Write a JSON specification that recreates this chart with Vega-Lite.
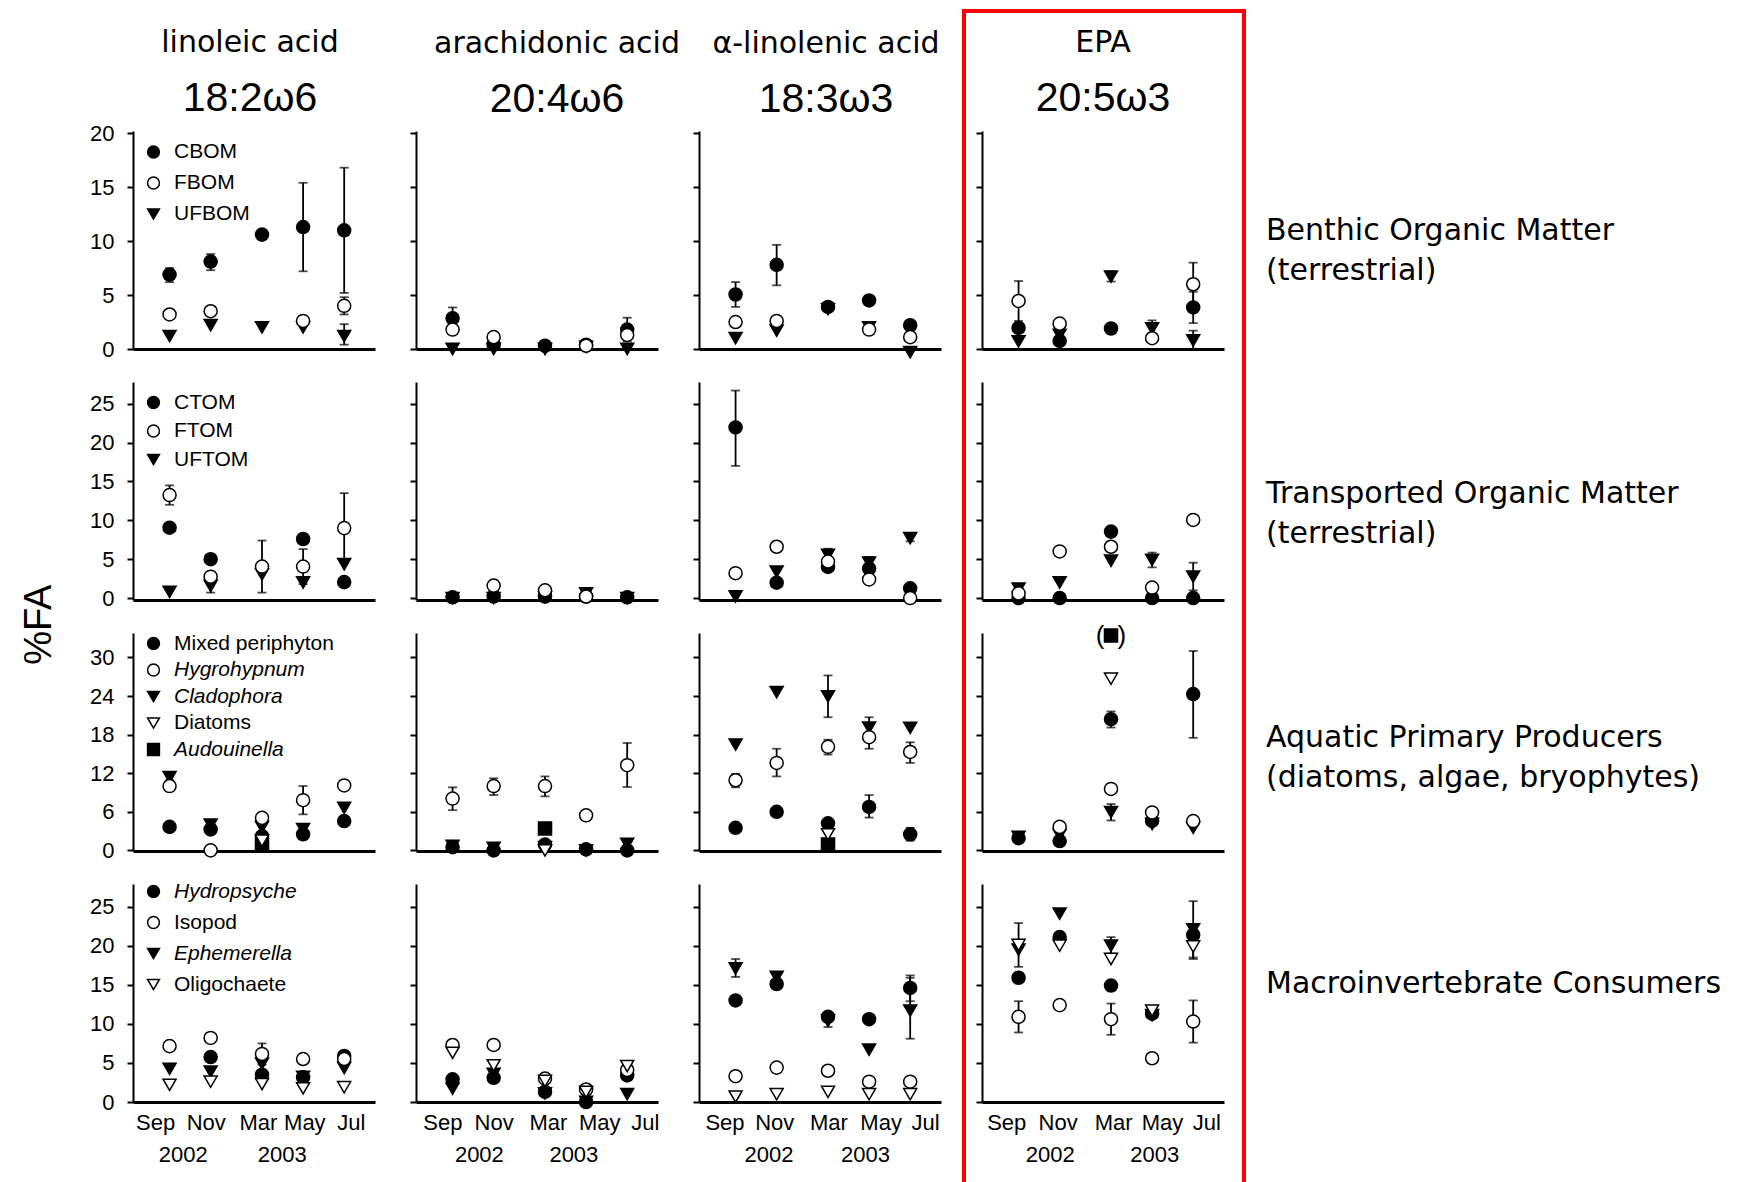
{
  "$schema": "https://vega.github.io/schema/vega-lite/v6.json",
  "background": "white",
  "padding": {"left": 20, "top": 8, "right": 5, "bottom": 0},
  "autosize": {"type": "pad"},
  "title": {"text": "%FA", "orient": "left", "anchor": "middle", "font": "Liberation Sans", "fontSize": 38, "fontWeight": "normal", "offset": 31, "dx": -26},
  "columns": 5,
  "spacing": {"row": 33, "column": 41},
  "bounds": "flush",
  "resolve": {"scale": {"shape": "independent", "fill": "independent", "stroke": "independent"}},
  "datasets": {
    "fa": [
      {"g":"BOM","f":"LA","s":"CBOM","t":0,"v":6.9,"lo":6.2,"hi":7.5},
      {"g":"BOM","f":"LA","s":"CBOM","t":1,"v":8.1,"lo":7.3,"hi":8.8},
      {"g":"BOM","f":"LA","s":"CBOM","t":2.25,"v":10.6},
      {"g":"BOM","f":"LA","s":"CBOM","t":3.25,"v":11.3,"lo":7.2,"hi":15.4},
      {"g":"BOM","f":"LA","s":"CBOM","t":4.25,"v":11.0,"lo":5.2,"hi":16.8},
      {"g":"BOM","f":"LA","s":"UFBOM","t":0,"v":1.2},
      {"g":"BOM","f":"LA","s":"UFBOM","t":1,"v":2.2},
      {"g":"BOM","f":"LA","s":"UFBOM","t":2.25,"v":2.0},
      {"g":"BOM","f":"LA","s":"UFBOM","t":3.25,"v":2.0},
      {"g":"BOM","f":"LA","s":"UFBOM","t":4.25,"v":1.2,"lo":0.4,"hi":2.3},
      {"g":"BOM","f":"LA","s":"FBOM","t":0,"v":3.2},
      {"g":"BOM","f":"LA","s":"FBOM","t":1,"v":3.5,"lo":3.1,"hi":3.9},
      {"g":"BOM","f":"LA","s":"FBOM","t":3.25,"v":2.6},
      {"g":"BOM","f":"LA","s":"FBOM","t":4.25,"v":4.0,"lo":3.2,"hi":4.8},

      {"g":"BOM","f":"ARA","s":"CBOM","t":0,"v":2.85,"lo":1.85,"hi":3.85},
      {"g":"BOM","f":"ARA","s":"CBOM","t":1,"v":0.4},
      {"g":"BOM","f":"ARA","s":"CBOM","t":2.25,"v":0.3},
      {"g":"BOM","f":"ARA","s":"CBOM","t":3.25,"v":0.4},
      {"g":"BOM","f":"ARA","s":"CBOM","t":4.25,"v":1.8,"lo":0.7,"hi":2.9},
      {"g":"BOM","f":"ARA","s":"UFBOM","t":0,"v":0},
      {"g":"BOM","f":"ARA","s":"UFBOM","t":1,"v":0},
      {"g":"BOM","f":"ARA","s":"UFBOM","t":2.25,"v":0},
      {"g":"BOM","f":"ARA","s":"UFBOM","t":3.25,"v":0.2},
      {"g":"BOM","f":"ARA","s":"UFBOM","t":4.25,"v":0},
      {"g":"BOM","f":"ARA","s":"FBOM","t":0,"v":1.8},
      {"g":"BOM","f":"ARA","s":"FBOM","t":1,"v":1.1},
      {"g":"BOM","f":"ARA","s":"FBOM","t":3.25,"v":0.3},
      {"g":"BOM","f":"ARA","s":"FBOM","t":4.25,"v":1.3},

      {"g":"BOM","f":"ALA","s":"CBOM","t":0,"v":5.05,"lo":3.9,"hi":6.2},
      {"g":"BOM","f":"ALA","s":"CBOM","t":1,"v":7.8,"lo":5.9,"hi":9.65},
      {"g":"BOM","f":"ALA","s":"CBOM","t":2.25,"v":3.9},
      {"g":"BOM","f":"ALA","s":"CBOM","t":3.25,"v":4.5},
      {"g":"BOM","f":"ALA","s":"CBOM","t":4.25,"v":2.2},
      {"g":"BOM","f":"ALA","s":"UFBOM","t":0,"v":1.0},
      {"g":"BOM","f":"ALA","s":"UFBOM","t":1,"v":1.7},
      {"g":"BOM","f":"ALA","s":"UFBOM","t":2.25,"v":3.7},
      {"g":"BOM","f":"ALA","s":"UFBOM","t":3.25,"v":2.0},
      {"g":"BOM","f":"ALA","s":"UFBOM","t":4.25,"v":-0.3},
      {"g":"BOM","f":"ALA","s":"FBOM","t":0,"v":2.5},
      {"g":"BOM","f":"ALA","s":"FBOM","t":1,"v":2.6},
      {"g":"BOM","f":"ALA","s":"FBOM","t":3.25,"v":1.8},
      {"g":"BOM","f":"ALA","s":"FBOM","t":4.25,"v":1.1},

      {"g":"BOM","f":"EPA","s":"CBOM","t":0,"v":1.95},
      {"g":"BOM","f":"EPA","s":"CBOM","t":1,"v":0.75},
      {"g":"BOM","f":"EPA","s":"CBOM","t":2.25,"v":1.9},
      {"g":"BOM","f":"EPA","s":"CBOM","t":4.25,"v":3.85,"lo":2.4,"hi":5.3},
      {"g":"BOM","f":"EPA","s":"UFBOM","t":0,"v":0.7},
      {"g":"BOM","f":"EPA","s":"UFBOM","t":1,"v":1.3},
      {"g":"BOM","f":"EPA","s":"UFBOM","t":2.25,"v":6.7,"lo":6.25,"hi":7.2},
      {"g":"BOM","f":"EPA","s":"UFBOM","t":3.25,"v":1.9,"lo":1.15,"hi":2.65},
      {"g":"BOM","f":"EPA","s":"UFBOM","t":4.25,"v":0.8,"lo":0,"hi":1.7},
      {"g":"BOM","f":"EPA","s":"FBOM","t":0,"v":4.45,"lo":2.6,"hi":6.3},
      {"g":"BOM","f":"EPA","s":"FBOM","t":1,"v":2.35},
      {"g":"BOM","f":"EPA","s":"FBOM","t":3.25,"v":1.0},
      {"g":"BOM","f":"EPA","s":"FBOM","t":4.25,"v":6.0,"lo":4.0,"hi":8.0},

      {"g":"TOM","f":"LA","s":"CTOM","t":0,"v":9.05},
      {"g":"TOM","f":"LA","s":"CTOM","t":1,"v":5.0},
      {"g":"TOM","f":"LA","s":"CTOM","t":3.25,"v":7.6},
      {"g":"TOM","f":"LA","s":"CTOM","t":4.25,"v":2.05},
      {"g":"TOM","f":"LA","s":"UFTOM","t":0,"v":0.8},
      {"g":"TOM","f":"LA","s":"UFTOM","t":1,"v":1.55,"lo":0.7,"hi":2.4},
      {"g":"TOM","f":"LA","s":"UFTOM","t":2.25,"v":3.05},
      {"g":"TOM","f":"LA","s":"UFTOM","t":3.25,"v":2.0},
      {"g":"TOM","f":"LA","s":"UFTOM","t":4.25,"v":4.35},
      {"g":"TOM","f":"LA","s":"FTOM","t":0,"v":13.25,"lo":12.0,"hi":14.5},
      {"g":"TOM","f":"LA","s":"FTOM","t":1,"v":2.75},
      {"g":"TOM","f":"LA","s":"FTOM","t":2.25,"v":4.05,"lo":0.7,"hi":7.4},
      {"g":"TOM","f":"LA","s":"FTOM","t":3.25,"v":4.05,"lo":1.8,"hi":6.3},
      {"g":"TOM","f":"LA","s":"FTOM","t":4.25,"v":9.0,"lo":4.5,"hi":13.5},

      {"g":"TOM","f":"ARA","s":"CTOM","t":0,"v":0.1},
      {"g":"TOM","f":"ARA","s":"CTOM","t":1,"v":0.2},
      {"g":"TOM","f":"ARA","s":"CTOM","t":2.25,"v":0.2},
      {"g":"TOM","f":"ARA","s":"CTOM","t":3.25,"v":0.2},
      {"g":"TOM","f":"ARA","s":"CTOM","t":4.25,"v":0.1},
      {"g":"TOM","f":"ARA","s":"UFTOM","t":0,"v":0},
      {"g":"TOM","f":"ARA","s":"UFTOM","t":1,"v":0},
      {"g":"TOM","f":"ARA","s":"UFTOM","t":2.25,"v":0.1},
      {"g":"TOM","f":"ARA","s":"UFTOM","t":3.25,"v":0.6},
      {"g":"TOM","f":"ARA","s":"UFTOM","t":4.25,"v":0},
      {"g":"TOM","f":"ARA","s":"FTOM","t":1,"v":1.6},
      {"g":"TOM","f":"ARA","s":"FTOM","t":2.25,"v":1.0},
      {"g":"TOM","f":"ARA","s":"FTOM","t":3.25,"v":0.2},

      {"g":"TOM","f":"ALA","s":"CTOM","t":0,"v":21.95,"lo":17.0,"hi":26.7},
      {"g":"TOM","f":"ALA","s":"CTOM","t":1,"v":1.98},
      {"g":"TOM","f":"ALA","s":"CTOM","t":2.25,"v":4.0},
      {"g":"TOM","f":"ALA","s":"CTOM","t":3.25,"v":3.8},
      {"g":"TOM","f":"ALA","s":"CTOM","t":4.25,"v":1.25},
      {"g":"TOM","f":"ALA","s":"UFTOM","t":0,"v":0.2},
      {"g":"TOM","f":"ALA","s":"UFTOM","t":1,"v":3.4},
      {"g":"TOM","f":"ALA","s":"UFTOM","t":2.25,"v":5.55,"lo":4.75,"hi":6.35},
      {"g":"TOM","f":"ALA","s":"UFTOM","t":3.25,"v":4.55,"lo":3.8,"hi":5.3},
      {"g":"TOM","f":"ALA","s":"UFTOM","t":4.25,"v":7.7,"lo":7.3,"hi":8.1},
      {"g":"TOM","f":"ALA","s":"FTOM","t":0,"v":3.2},
      {"g":"TOM","f":"ALA","s":"FTOM","t":1,"v":6.6},
      {"g":"TOM","f":"ALA","s":"FTOM","t":2.25,"v":4.7},
      {"g":"TOM","f":"ALA","s":"FTOM","t":3.25,"v":2.4},
      {"g":"TOM","f":"ALA","s":"FTOM","t":4.25,"v":0},

      {"g":"TOM","f":"EPA","s":"CTOM","t":0,"v":0},
      {"g":"TOM","f":"EPA","s":"CTOM","t":1,"v":0},
      {"g":"TOM","f":"EPA","s":"CTOM","t":2.25,"v":8.55},
      {"g":"TOM","f":"EPA","s":"CTOM","t":3.25,"v":0},
      {"g":"TOM","f":"EPA","s":"CTOM","t":4.25,"v":0},
      {"g":"TOM","f":"EPA","s":"UFTOM","t":0,"v":1.2,"lo":0.6,"hi":1.8},
      {"g":"TOM","f":"EPA","s":"UFTOM","t":1,"v":2.0},
      {"g":"TOM","f":"EPA","s":"UFTOM","t":2.25,"v":4.8},
      {"g":"TOM","f":"EPA","s":"UFTOM","t":3.25,"v":4.9,"lo":3.95,"hi":5.85},
      {"g":"TOM","f":"EPA","s":"UFTOM","t":4.25,"v":2.75,"lo":1.0,"hi":4.55},
      {"g":"TOM","f":"EPA","s":"FTOM","t":0,"v":0.6},
      {"g":"TOM","f":"EPA","s":"FTOM","t":1,"v":6.0},
      {"g":"TOM","f":"EPA","s":"FTOM","t":2.25,"v":6.6},
      {"g":"TOM","f":"EPA","s":"FTOM","t":3.25,"v":1.35},
      {"g":"TOM","f":"EPA","s":"FTOM","t":4.25,"v":10.05},

      {"g":"APP","f":"LA","s":"Mixed periphyton","t":0,"v":3.65},
      {"g":"APP","f":"LA","s":"Mixed periphyton","t":1,"v":3.25},
      {"g":"APP","f":"LA","s":"Mixed periphyton","t":2.25,"v":2.2},
      {"g":"APP","f":"LA","s":"Mixed periphyton","t":3.25,"v":2.5},
      {"g":"APP","f":"LA","s":"Mixed periphyton","t":4.25,"v":4.55},
      {"g":"APP","f":"LA","s":"Cladophora","t":0,"v":11.4,"lo":10.9,"hi":11.9},
      {"g":"APP","f":"LA","s":"Cladophora","t":1,"v":4.0},
      {"g":"APP","f":"LA","s":"Cladophora","t":2.25,"v":3.6},
      {"g":"APP","f":"LA","s":"Cladophora","t":3.25,"v":3.3},
      {"g":"APP","f":"LA","s":"Cladophora","t":4.25,"v":6.6},
      {"g":"APP","f":"LA","s":"Audouinella","t":2.25,"v":0.8},
      {"g":"APP","f":"LA","s":"Hygrohypnum","t":0,"v":10.0,"lo":9.3,"hi":10.7},
      {"g":"APP","f":"LA","s":"Hygrohypnum","t":1,"v":0},
      {"g":"APP","f":"LA","s":"Hygrohypnum","t":2.25,"v":5.05},
      {"g":"APP","f":"LA","s":"Hygrohypnum","t":3.25,"v":7.8,"lo":5.6,"hi":10.0},
      {"g":"APP","f":"LA","s":"Hygrohypnum","t":4.25,"v":10.1},
      {"g":"APP","f":"LA","s":"Diatoms","t":2.25,"v":1.5},

      {"g":"APP","f":"ARA","s":"Mixed periphyton","t":0,"v":0.5},
      {"g":"APP","f":"ARA","s":"Mixed periphyton","t":1,"v":0},
      {"g":"APP","f":"ARA","s":"Mixed periphyton","t":2.25,"v":0.9},
      {"g":"APP","f":"ARA","s":"Mixed periphyton","t":3.25,"v":0.15},
      {"g":"APP","f":"ARA","s":"Mixed periphyton","t":4.25,"v":0},
      {"g":"APP","f":"ARA","s":"Cladophora","t":0,"v":0.7},
      {"g":"APP","f":"ARA","s":"Cladophora","t":1,"v":0.4},
      {"g":"APP","f":"ARA","s":"Cladophora","t":2.25,"v":0.5},
      {"g":"APP","f":"ARA","s":"Cladophora","t":3.25,"v":0},
      {"g":"APP","f":"ARA","s":"Cladophora","t":4.25,"v":1.0},
      {"g":"APP","f":"ARA","s":"Audouinella","t":2.25,"v":3.4},
      {"g":"APP","f":"ARA","s":"Hygrohypnum","t":0,"v":8.05,"lo":6.25,"hi":9.8},
      {"g":"APP","f":"ARA","s":"Hygrohypnum","t":1,"v":10.0,"lo":8.6,"hi":11.2},
      {"g":"APP","f":"ARA","s":"Hygrohypnum","t":2.25,"v":10.0,"lo":8.4,"hi":11.5},
      {"g":"APP","f":"ARA","s":"Hygrohypnum","t":3.25,"v":5.45},
      {"g":"APP","f":"ARA","s":"Hygrohypnum","t":4.25,"v":13.25,"lo":9.85,"hi":16.7},
      {"g":"APP","f":"ARA","s":"Diatoms","t":2.25,"v":0},

      {"g":"APP","f":"ALA","s":"Mixed periphyton","t":0,"v":3.5},
      {"g":"APP","f":"ALA","s":"Mixed periphyton","t":1,"v":6.0},
      {"g":"APP","f":"ALA","s":"Mixed periphyton","t":2.25,"v":4.2},
      {"g":"APP","f":"ALA","s":"Mixed periphyton","t":3.25,"v":6.75,"lo":5.1,"hi":8.6},
      {"g":"APP","f":"ALA","s":"Mixed periphyton","t":4.25,"v":2.5,"lo":1.5,"hi":3.5},
      {"g":"APP","f":"ALA","s":"Cladophora","t":0,"v":16.45},
      {"g":"APP","f":"ALA","s":"Cladophora","t":1,"v":24.6},
      {"g":"APP","f":"ALA","s":"Cladophora","t":2.25,"v":23.95,"lo":20.7,"hi":27.2},
      {"g":"APP","f":"ALA","s":"Cladophora","t":3.25,"v":19.1,"lo":17.5,"hi":20.7},
      {"g":"APP","f":"ALA","s":"Cladophora","t":4.25,"v":19.05},
      {"g":"APP","f":"ALA","s":"Audouinella","t":2.25,"v":0.9},
      {"g":"APP","f":"ALA","s":"Hygrohypnum","t":0,"v":10.9,"lo":9.8,"hi":11.9},
      {"g":"APP","f":"ALA","s":"Hygrohypnum","t":1,"v":13.6,"lo":11.5,"hi":15.8},
      {"g":"APP","f":"ALA","s":"Hygrohypnum","t":2.25,"v":16.1,"lo":14.9,"hi":17.2},
      {"g":"APP","f":"ALA","s":"Hygrohypnum","t":3.25,"v":17.6,"lo":15.8,"hi":18.2},
      {"g":"APP","f":"ALA","s":"Hygrohypnum","t":4.25,"v":15.3,"lo":13.6,"hi":16.8},
      {"g":"APP","f":"ALA","s":"Diatoms","t":2.25,"v":2.5},

      {"g":"APP","f":"EPA","s":"Mixed periphyton","t":0,"v":1.9},
      {"g":"APP","f":"EPA","s":"Mixed periphyton","t":1,"v":1.45},
      {"g":"APP","f":"EPA","s":"Mixed periphyton","t":2.25,"v":20.4,"lo":19.1,"hi":21.6},
      {"g":"APP","f":"EPA","s":"Mixed periphyton","t":3.25,"v":4.6},
      {"g":"APP","f":"EPA","s":"Mixed periphyton","t":4.25,"v":24.3,"lo":17.5,"hi":31.0},
      {"g":"APP","f":"EPA","s":"Cladophora","t":0,"v":2.1},
      {"g":"APP","f":"EPA","s":"Cladophora","t":1,"v":2.4},
      {"g":"APP","f":"EPA","s":"Cladophora","t":2.25,"v":5.95,"lo":4.65,"hi":7.2},
      {"g":"APP","f":"EPA","s":"Cladophora","t":3.25,"v":4.1},
      {"g":"APP","f":"EPA","s":"Cladophora","t":4.25,"v":3.5},
      {"g":"APP","f":"EPA","s":"Audouinella","t":2.25,"v":33.4},
      {"g":"APP","f":"EPA","s":"Hygrohypnum","t":1,"v":3.65},
      {"g":"APP","f":"EPA","s":"Hygrohypnum","t":2.25,"v":9.55},
      {"g":"APP","f":"EPA","s":"Hygrohypnum","t":3.25,"v":5.9},
      {"g":"APP","f":"EPA","s":"Hygrohypnum","t":4.25,"v":4.55},
      {"g":"APP","f":"EPA","s":"Diatoms","t":2.25,"v":26.7},

      {"g":"MIC","f":"LA","s":"Hydropsyche","t":1,"v":5.75},
      {"g":"MIC","f":"LA","s":"Hydropsyche","t":2.25,"v":3.5},
      {"g":"MIC","f":"LA","s":"Hydropsyche","t":3.25,"v":3.15},
      {"g":"MIC","f":"LA","s":"Hydropsyche","t":4.25,"v":5.9,"lo":5.5,"hi":6.3},
      {"g":"MIC","f":"LA","s":"Ephemerella","t":0,"v":4.25},
      {"g":"MIC","f":"LA","s":"Ephemerella","t":1,"v":3.9},
      {"g":"MIC","f":"LA","s":"Ephemerella","t":2.25,"v":4.9},
      {"g":"MIC","f":"LA","s":"Ephemerella","t":3.25,"v":3.2},
      {"g":"MIC","f":"LA","s":"Ephemerella","t":4.25,"v":4.35},
      {"g":"MIC","f":"LA","s":"Isopod","t":0,"v":7.15},
      {"g":"MIC","f":"LA","s":"Isopod","t":1,"v":8.2},
      {"g":"MIC","f":"LA","s":"Isopod","t":2.25,"v":6.15,"lo":4.8,"hi":7.5},
      {"g":"MIC","f":"LA","s":"Isopod","t":3.25,"v":5.5},
      {"g":"MIC","f":"LA","s":"Isopod","t":4.25,"v":5.5},
      {"g":"MIC","f":"LA","s":"Oligochaete","t":0,"v":2.2},
      {"g":"MIC","f":"LA","s":"Oligochaete","t":1,"v":2.6},
      {"g":"MIC","f":"LA","s":"Oligochaete","t":2.25,"v":2.3},
      {"g":"MIC","f":"LA","s":"Oligochaete","t":3.25,"v":1.75},
      {"g":"MIC","f":"LA","s":"Oligochaete","t":4.25,"v":1.9},

      {"g":"MIC","f":"ARA","s":"Hydropsyche","t":0,"v":2.9},
      {"g":"MIC","f":"ARA","s":"Hydropsyche","t":1,"v":3.1},
      {"g":"MIC","f":"ARA","s":"Hydropsyche","t":2.25,"v":1.3},
      {"g":"MIC","f":"ARA","s":"Hydropsyche","t":3.25,"v":0},
      {"g":"MIC","f":"ARA","s":"Hydropsyche","t":4.25,"v":3.4},
      {"g":"MIC","f":"ARA","s":"Ephemerella","t":0,"v":1.7},
      {"g":"MIC","f":"ARA","s":"Ephemerella","t":1,"v":3.6},
      {"g":"MIC","f":"ARA","s":"Ephemerella","t":2.25,"v":1.1},
      {"g":"MIC","f":"ARA","s":"Ephemerella","t":3.25,"v":0},
      {"g":"MIC","f":"ARA","s":"Ephemerella","t":4.25,"v":1.0},
      {"g":"MIC","f":"ARA","s":"Isopod","t":0,"v":7.3},
      {"g":"MIC","f":"ARA","s":"Isopod","t":1,"v":7.3},
      {"g":"MIC","f":"ARA","s":"Isopod","t":2.25,"v":3.0,"lo":2.6,"hi":3.5},
      {"g":"MIC","f":"ARA","s":"Isopod","t":3.25,"v":1.6},
      {"g":"MIC","f":"ARA","s":"Isopod","t":4.25,"v":4.1},
      {"g":"MIC","f":"ARA","s":"Oligochaete","t":0,"v":6.3},
      {"g":"MIC","f":"ARA","s":"Oligochaete","t":1,"v":4.7},
      {"g":"MIC","f":"ARA","s":"Oligochaete","t":2.25,"v":2.7},
      {"g":"MIC","f":"ARA","s":"Oligochaete","t":3.25,"v":1.3},
      {"g":"MIC","f":"ARA","s":"Oligochaete","t":4.25,"v":4.6},

      {"g":"MIC","f":"ALA","s":"Hydropsyche","t":0,"v":13.0},
      {"g":"MIC","f":"ALA","s":"Hydropsyche","t":1,"v":15.1},
      {"g":"MIC","f":"ALA","s":"Hydropsyche","t":2.25,"v":10.9},
      {"g":"MIC","f":"ALA","s":"Hydropsyche","t":3.25,"v":10.6},
      {"g":"MIC","f":"ALA","s":"Hydropsyche","t":4.25,"v":14.6,"lo":12.9,"hi":16.2},
      {"g":"MIC","f":"ALA","s":"Ephemerella","t":0,"v":17.1,"lo":16.0,"hi":18.3},
      {"g":"MIC","f":"ALA","s":"Ephemerella","t":1,"v":16.0},
      {"g":"MIC","f":"ALA","s":"Ephemerella","t":2.25,"v":10.4,"lo":9.6,"hi":11.2},
      {"g":"MIC","f":"ALA","s":"Ephemerella","t":3.25,"v":6.7},
      {"g":"MIC","f":"ALA","s":"Ephemerella","t":4.25,"v":11.7,"lo":8.1,"hi":15.9},
      {"g":"MIC","f":"ALA","s":"Isopod","t":0,"v":3.3},
      {"g":"MIC","f":"ALA","s":"Isopod","t":1,"v":4.4},
      {"g":"MIC","f":"ALA","s":"Isopod","t":2.25,"v":4.0},
      {"g":"MIC","f":"ALA","s":"Isopod","t":3.25,"v":2.6},
      {"g":"MIC","f":"ALA","s":"Isopod","t":4.25,"v":2.6},
      {"g":"MIC","f":"ALA","s":"Oligochaete","t":0,"v":0.7},
      {"g":"MIC","f":"ALA","s":"Oligochaete","t":1,"v":1.0},
      {"g":"MIC","f":"ALA","s":"Oligochaete","t":2.25,"v":1.3},
      {"g":"MIC","f":"ALA","s":"Oligochaete","t":3.25,"v":1.0},
      {"g":"MIC","f":"ALA","s":"Oligochaete","t":4.25,"v":1.0},

      {"g":"MIC","f":"EPA","s":"Hydropsyche","t":0,"v":15.9},
      {"g":"MIC","f":"EPA","s":"Hydropsyche","t":1,"v":21.1},
      {"g":"MIC","f":"EPA","s":"Hydropsyche","t":2.25,"v":14.9},
      {"g":"MIC","f":"EPA","s":"Hydropsyche","t":3.25,"v":11.3},
      {"g":"MIC","f":"EPA","s":"Hydropsyche","t":4.25,"v":21.4},
      {"g":"MIC","f":"EPA","s":"Ephemerella","t":0,"v":19.5},
      {"g":"MIC","f":"EPA","s":"Ephemerella","t":1,"v":24.1},
      {"g":"MIC","f":"EPA","s":"Ephemerella","t":2.25,"v":20.0,"lo":19.0,"hi":21.1},
      {"g":"MIC","f":"EPA","s":"Ephemerella","t":3.25,"v":11.1},
      {"g":"MIC","f":"EPA","s":"Ephemerella","t":4.25,"v":22.1,"lo":18.5,"hi":25.7},
      {"g":"MIC","f":"EPA","s":"Isopod","t":0,"v":10.9,"lo":8.9,"hi":12.9},
      {"g":"MIC","f":"EPA","s":"Isopod","t":1,"v":12.4},
      {"g":"MIC","f":"EPA","s":"Isopod","t":2.25,"v":10.6,"lo":8.6,"hi":12.6},
      {"g":"MIC","f":"EPA","s":"Isopod","t":3.25,"v":5.6},
      {"g":"MIC","f":"EPA","s":"Isopod","t":4.25,"v":10.3,"lo":7.6,"hi":13.0},
      {"g":"MIC","f":"EPA","s":"Oligochaete","t":0,"v":20.1,"lo":17.3,"hi":22.9},
      {"g":"MIC","f":"EPA","s":"Oligochaete","t":1,"v":20.0},
      {"g":"MIC","f":"EPA","s":"Oligochaete","t":2.25,"v":18.3},
      {"g":"MIC","f":"EPA","s":"Oligochaete","t":3.25,"v":11.7},
      {"g":"MIC","f":"EPA","s":"Oligochaete","t":4.25,"v":19.9,"lo":18.3,"hi":21.5}
    ]
  },
  "concat": [
    {
      "width": 242, "height": 218, "data": {"name": "fa"},
      "transform": [{"filter": "datum.g === 'BOM' && datum.f === 'LA'"}],
      "title": {"text": "linoleic acid", "subtitle": "18:2ω6", "dx": -4, "offset": 3},
      "layer": [
        {"transform": [{"filter": "isValid(datum.hi)"}], "mark": {"type": "errorbar", "ticks": true, "size": 9, "thickness": 1.8, "color": "black"},
         "encoding": {"x": {"field": "t", "type": "quantitative", "scale": {"domain": [-0.89, 5], "nice": false, "zero": false}, "title": null},
                      "y": {"field": "lo", "type": "quantitative", "scale": {"domain": [0, 20.2], "nice": false, "zero": false}, "title": null}, "y2": {"field": "hi"}}},
        {"mark": {"type": "point", "filled": true, "size": 170, "strokeWidth": 1.5, "opacity": 1},
         "encoding": {"x": {"field": "t", "type": "quantitative", "scale": {"domain": [-0.89, 5], "nice": false, "zero": false}, "title": null},
                      "y": {"field": "v", "type": "quantitative", "scale": {"domain": [0, 20.2], "nice": false, "zero": false}, "title": null, "axis": {"values": [0, 5, 10, 15, 20]}},
                      "shape": {"field": "s", "type": "nominal", "scale": {"domain": ["CBOM", "FBOM", "UFBOM"], "range": ["circle", "circle", "triangle-down"]},
                                "legend": {"title": null, "orient": "none", "legendX": 10, "legendY": 10.5, "rowPadding": 9, "encoding": {"symbols": {"stroke": {"value": "black"}, "strokeWidth": {"value": 1.5}}}}},
                      "fill": {"field": "s", "type": "nominal", "scale": {"domain": ["CBOM", "FBOM", "UFBOM"], "range": ["black", "white", "black"]},
                                "legend": {"title": null, "orient": "none", "legendX": 10, "legendY": 10.5, "rowPadding": 9, "encoding": {"symbols": {"stroke": {"value": "black"}, "strokeWidth": {"value": 1.5}}}}},
                      "stroke": {"field": "s", "type": "nominal", "scale": {"domain": ["CBOM", "FBOM", "UFBOM"], "range": ["black", "black", "black"]},
                                "legend": {"title": null, "orient": "none", "legendX": 10, "legendY": 10.5, "rowPadding": 9, "encoding": {"symbols": {"stroke": {"value": "black"}, "strokeWidth": {"value": 1.5}}}}}}}
      ]
    },
    {
      "width": 242, "height": 218, "data": {"name": "fa"},
      "transform": [{"filter": "datum.g === 'BOM' && datum.f === 'ARA'"}],
      "title": {"text": "arachidonic acid", "subtitle": "20:4ω6", "dx": 20},
      "layer": [
        {"transform": [{"filter": "isValid(datum.hi)"}], "mark": {"type": "errorbar", "ticks": true, "size": 9, "thickness": 1.8, "color": "black"},
         "encoding": {"x": {"field": "t", "type": "quantitative", "scale": {"domain": [-0.89, 5], "nice": false, "zero": false}, "title": null},
                      "y": {"field": "lo", "type": "quantitative", "scale": {"domain": [0, 20.2], "nice": false, "zero": false}, "title": null}, "y2": {"field": "hi"}}},
        {"mark": {"type": "point", "filled": true, "size": 170, "stroke": "black", "strokeWidth": 1.5, "opacity": 1},
         "encoding": {"x": {"field": "t", "type": "quantitative", "scale": {"domain": [-0.89, 5], "nice": false, "zero": false}, "title": null},
                      "y": {"field": "v", "type": "quantitative", "scale": {"domain": [0, 20.2], "nice": false, "zero": false}, "title": null, "axis": {"values": [0, 5, 10, 15, 20], "labels": false}},
                      "shape": {"field": "s", "type": "nominal", "scale": {"domain": ["CBOM", "FBOM", "UFBOM"], "range": ["circle", "circle", "triangle-down"]}, "legend": null},
                      "fill": {"field": "s", "type": "nominal", "scale": {"domain": ["CBOM", "FBOM", "UFBOM"], "range": ["black", "white", "black"]}, "legend": null}}}
      ]
    },
    {
      "width": 242, "height": 218, "data": {"name": "fa"},
      "transform": [{"filter": "datum.g === 'BOM' && datum.f === 'ALA'"}],
      "title": {"text": "α-linolenic acid", "subtitle": "18:3ω3", "dx": 6},
      "layer": [
        {"transform": [{"filter": "isValid(datum.hi)"}], "mark": {"type": "errorbar", "ticks": true, "size": 9, "thickness": 1.8, "color": "black"},
         "encoding": {"x": {"field": "t", "type": "quantitative", "scale": {"domain": [-0.89, 5], "nice": false, "zero": false}, "title": null},
                      "y": {"field": "lo", "type": "quantitative", "scale": {"domain": [0, 20.2], "nice": false, "zero": false}, "title": null}, "y2": {"field": "hi"}}},
        {"mark": {"type": "point", "filled": true, "size": 170, "stroke": "black", "strokeWidth": 1.5, "opacity": 1},
         "encoding": {"x": {"field": "t", "type": "quantitative", "scale": {"domain": [-0.89, 5], "nice": false, "zero": false}, "title": null},
                      "y": {"field": "v", "type": "quantitative", "scale": {"domain": [0, 20.2], "nice": false, "zero": false}, "title": null, "axis": {"values": [0, 5, 10, 15, 20], "labels": false}},
                      "shape": {"field": "s", "type": "nominal", "scale": {"domain": ["CBOM", "FBOM", "UFBOM"], "range": ["circle", "circle", "triangle-down"]}, "legend": null},
                      "fill": {"field": "s", "type": "nominal", "scale": {"domain": ["CBOM", "FBOM", "UFBOM"], "range": ["black", "white", "black"]}, "legend": null}}}
      ]
    },
    {
      "width": 242, "height": 218, "data": {"name": "fa"},
      "transform": [{"filter": "datum.g === 'BOM' && datum.f === 'EPA'"}],
      "title": {"text": "EPA", "subtitle": "20:5ω3", "offset": -111},
      "layer": [
        {"data": {"values": [{}]}, "mark": {"type": "rule", "color": "#ff0000", "strokeWidth": 4, "strokeCap": "square"},
         "encoding": {"x": {"datum": -1.328, "type": "quantitative", "scale": {"domain": [-0.89, 5], "nice": false, "zero": false}, "title": null},
                      "x2": {"datum": 5.487},
                      "y": {"datum": 31.32, "type": "quantitative", "scale": {"domain": [0, 20.2], "nice": false, "zero": false}, "title": null}}},
        {"data": {"values": [{}]}, "mark": {"type": "rule", "color": "#ff0000", "strokeWidth": 4, "strokeCap": "square"},
         "encoding": {"x": {"datum": -1.328, "type": "quantitative", "scale": {"domain": [-0.89, 5], "nice": false, "zero": false}, "title": null},
                      "y": {"datum": 31.32, "type": "quantitative", "scale": {"domain": [0, 20.2], "nice": false, "zero": false}, "title": null}, "y2": {"datum": -2.0}}},
        {"data": {"values": [{}]}, "mark": {"type": "rule", "color": "#ff0000", "strokeWidth": 4, "strokeCap": "square"},
         "encoding": {"x": {"datum": 5.487, "type": "quantitative", "scale": {"domain": [-0.89, 5], "nice": false, "zero": false}, "title": null},
                      "y": {"datum": 31.32, "type": "quantitative", "scale": {"domain": [0, 20.2], "nice": false, "zero": false}, "title": null}, "y2": {"datum": -2.0}}},
        {"transform": [{"filter": "isValid(datum.hi)"}], "mark": {"type": "errorbar", "ticks": true, "size": 9, "thickness": 1.8, "color": "black"},
         "encoding": {"x": {"field": "t", "type": "quantitative", "scale": {"domain": [-0.89, 5], "nice": false, "zero": false}, "title": null},
                      "y": {"field": "lo", "type": "quantitative", "scale": {"domain": [0, 20.2], "nice": false, "zero": false}, "title": null}, "y2": {"field": "hi"}}},
        {"mark": {"type": "point", "filled": true, "size": 170, "stroke": "black", "strokeWidth": 1.5, "opacity": 1},
         "encoding": {"x": {"field": "t", "type": "quantitative", "scale": {"domain": [-0.89, 5], "nice": false, "zero": false}, "title": null},
                      "y": {"field": "v", "type": "quantitative", "scale": {"domain": [0, 20.2], "nice": false, "zero": false}, "title": null, "axis": {"values": [0, 5, 10, 15, 20], "labels": false}},
                      "shape": {"field": "s", "type": "nominal", "scale": {"domain": ["CBOM", "FBOM", "UFBOM"], "range": ["circle", "circle", "triangle-down"]}, "legend": null},
                      "fill": {"field": "s", "type": "nominal", "scale": {"domain": ["CBOM", "FBOM", "UFBOM"], "range": ["black", "white", "black"]}, "legend": null}}}
      ]
    },
    {
      "width": 2, "height": 218, "data": {"values": [{}]},
      "mark": {"type": "text", "align": "left", "baseline": "middle", "font": "DejaVu Sans", "fontSize": 30, "lineHeight": 40, "dy": -9, "color": "black"},
      "encoding": {"text": {"value": ["Benthic Organic Matter", "(terrestrial)"]}}
    },

    {
      "width": 242, "height": 218, "data": {"name": "fa"},
      "transform": [{"filter": "datum.g === 'TOM' && datum.f === 'LA'"}],
      "layer": [
        {"transform": [{"filter": "isValid(datum.hi)"}], "mark": {"type": "errorbar", "ticks": true, "size": 9, "thickness": 1.8, "color": "black"},
         "encoding": {"x": {"field": "t", "type": "quantitative", "scale": {"domain": [-0.89, 5], "nice": false, "zero": false}, "title": null},
                      "y": {"field": "lo", "type": "quantitative", "scale": {"domain": [-0.25, 27.8], "nice": false, "zero": false}, "title": null}, "y2": {"field": "hi"}}},
        {"mark": {"type": "point", "filled": true, "size": 170, "strokeWidth": 1.5, "opacity": 1},
         "encoding": {"x": {"field": "t", "type": "quantitative", "scale": {"domain": [-0.89, 5], "nice": false, "zero": false}, "title": null},
                      "y": {"field": "v", "type": "quantitative", "scale": {"domain": [-0.25, 27.8], "nice": false, "zero": false}, "title": null, "axis": {"values": [0, 5, 10, 15, 20, 25]}},
                      "shape": {"field": "s", "type": "nominal", "scale": {"domain": ["CTOM", "FTOM", "UFTOM"], "range": ["circle", "circle", "triangle-down"]},
                                "legend": {"title": null, "orient": "none", "legendX": 10, "legendY": 10, "rowPadding": 6.5, "encoding": {"symbols": {"stroke": {"value": "black"}, "strokeWidth": {"value": 1.5}}}}},
                      "fill": {"field": "s", "type": "nominal", "scale": {"domain": ["CTOM", "FTOM", "UFTOM"], "range": ["black", "white", "black"]},
                                "legend": {"title": null, "orient": "none", "legendX": 10, "legendY": 10, "rowPadding": 6.5, "encoding": {"symbols": {"stroke": {"value": "black"}, "strokeWidth": {"value": 1.5}}}}},
                      "stroke": {"field": "s", "type": "nominal", "scale": {"domain": ["CTOM", "FTOM", "UFTOM"], "range": ["black", "black", "black"]},
                                "legend": {"title": null, "orient": "none", "legendX": 10, "legendY": 10, "rowPadding": 6.5, "encoding": {"symbols": {"stroke": {"value": "black"}, "strokeWidth": {"value": 1.5}}}}}}}
      ]
    },
    {
      "width": 242, "height": 218, "data": {"name": "fa"},
      "transform": [{"filter": "datum.g === 'TOM' && datum.f === 'ARA'"}],
      "layer": [
        {"transform": [{"filter": "isValid(datum.hi)"}], "mark": {"type": "errorbar", "ticks": true, "size": 9, "thickness": 1.8, "color": "black"},
         "encoding": {"x": {"field": "t", "type": "quantitative", "scale": {"domain": [-0.89, 5], "nice": false, "zero": false}, "title": null},
                      "y": {"field": "lo", "type": "quantitative", "scale": {"domain": [-0.25, 27.8], "nice": false, "zero": false}, "title": null}, "y2": {"field": "hi"}}},
        {"mark": {"type": "point", "filled": true, "size": 170, "stroke": "black", "strokeWidth": 1.5, "opacity": 1},
         "encoding": {"x": {"field": "t", "type": "quantitative", "scale": {"domain": [-0.89, 5], "nice": false, "zero": false}, "title": null},
                      "y": {"field": "v", "type": "quantitative", "scale": {"domain": [-0.25, 27.8], "nice": false, "zero": false}, "title": null, "axis": {"values": [0, 5, 10, 15, 20, 25], "labels": false}},
                      "shape": {"field": "s", "type": "nominal", "scale": {"domain": ["CTOM", "FTOM", "UFTOM"], "range": ["circle", "circle", "triangle-down"]}, "legend": null},
                      "fill": {"field": "s", "type": "nominal", "scale": {"domain": ["CTOM", "FTOM", "UFTOM"], "range": ["black", "white", "black"]}, "legend": null}}}
      ]
    },
    {
      "width": 242, "height": 218, "data": {"name": "fa"},
      "transform": [{"filter": "datum.g === 'TOM' && datum.f === 'ALA'"}],
      "layer": [
        {"transform": [{"filter": "isValid(datum.hi)"}], "mark": {"type": "errorbar", "ticks": true, "size": 9, "thickness": 1.8, "color": "black"},
         "encoding": {"x": {"field": "t", "type": "quantitative", "scale": {"domain": [-0.89, 5], "nice": false, "zero": false}, "title": null},
                      "y": {"field": "lo", "type": "quantitative", "scale": {"domain": [-0.25, 27.8], "nice": false, "zero": false}, "title": null}, "y2": {"field": "hi"}}},
        {"mark": {"type": "point", "filled": true, "size": 170, "stroke": "black", "strokeWidth": 1.5, "opacity": 1},
         "encoding": {"x": {"field": "t", "type": "quantitative", "scale": {"domain": [-0.89, 5], "nice": false, "zero": false}, "title": null},
                      "y": {"field": "v", "type": "quantitative", "scale": {"domain": [-0.25, 27.8], "nice": false, "zero": false}, "title": null, "axis": {"values": [0, 5, 10, 15, 20, 25], "labels": false}},
                      "shape": {"field": "s", "type": "nominal", "scale": {"domain": ["CTOM", "FTOM", "UFTOM"], "range": ["circle", "circle", "triangle-down"]}, "legend": null},
                      "fill": {"field": "s", "type": "nominal", "scale": {"domain": ["CTOM", "FTOM", "UFTOM"], "range": ["black", "white", "black"]}, "legend": null}}}
      ]
    },
    {
      "width": 242, "height": 218, "data": {"name": "fa"},
      "transform": [{"filter": "datum.g === 'TOM' && datum.f === 'EPA'"}],
      "layer": [
        {"data": {"values": [{}]}, "mark": {"type": "rule", "color": "#ff0000", "strokeWidth": 4, "strokeCap": "square"},
         "encoding": {"x": {"datum": -1.328, "type": "quantitative", "scale": {"domain": [-0.89, 5], "nice": false, "zero": false}, "title": null},
                      "y": {"datum": 30.4, "type": "quantitative", "scale": {"domain": [-0.25, 27.8], "nice": false, "zero": false}, "title": null}, "y2": {"datum": -2.9}}},
        {"data": {"values": [{}]}, "mark": {"type": "rule", "color": "#ff0000", "strokeWidth": 4, "strokeCap": "square"},
         "encoding": {"x": {"datum": 5.487, "type": "quantitative", "scale": {"domain": [-0.89, 5], "nice": false, "zero": false}, "title": null},
                      "y": {"datum": 30.4, "type": "quantitative", "scale": {"domain": [-0.25, 27.8], "nice": false, "zero": false}, "title": null}, "y2": {"datum": -2.9}}},
        {"transform": [{"filter": "isValid(datum.hi)"}], "mark": {"type": "errorbar", "ticks": true, "size": 9, "thickness": 1.8, "color": "black"},
         "encoding": {"x": {"field": "t", "type": "quantitative", "scale": {"domain": [-0.89, 5], "nice": false, "zero": false}, "title": null},
                      "y": {"field": "lo", "type": "quantitative", "scale": {"domain": [-0.25, 27.8], "nice": false, "zero": false}, "title": null}, "y2": {"field": "hi"}}},
        {"mark": {"type": "point", "filled": true, "size": 170, "stroke": "black", "strokeWidth": 1.5, "opacity": 1},
         "encoding": {"x": {"field": "t", "type": "quantitative", "scale": {"domain": [-0.89, 5], "nice": false, "zero": false}, "title": null},
                      "y": {"field": "v", "type": "quantitative", "scale": {"domain": [-0.25, 27.8], "nice": false, "zero": false}, "title": null, "axis": {"values": [0, 5, 10, 15, 20, 25], "labels": false}},
                      "shape": {"field": "s", "type": "nominal", "scale": {"domain": ["CTOM", "FTOM", "UFTOM"], "range": ["circle", "circle", "triangle-down"]}, "legend": null},
                      "fill": {"field": "s", "type": "nominal", "scale": {"domain": ["CTOM", "FTOM", "UFTOM"], "range": ["black", "white", "black"]}, "legend": null}}}
      ]
    },
    {
      "width": 2, "height": 218, "data": {"values": [{}]},
      "mark": {"type": "text", "align": "left", "baseline": "middle", "font": "DejaVu Sans", "fontSize": 30, "lineHeight": 40, "dy": 3, "color": "black"},
      "encoding": {"text": {"value": ["Transported Organic Matter", "(terrestrial)"]}}
    },

    {
      "width": 242, "height": 218, "data": {"name": "fa"},
      "transform": [{"filter": "datum.g === 'APP' && datum.f === 'LA'"}],
      "layer": [
        {"transform": [{"filter": "isValid(datum.hi)"}], "mark": {"type": "errorbar", "ticks": true, "size": 9, "thickness": 1.8, "color": "black"},
         "encoding": {"x": {"field": "t", "type": "quantitative", "scale": {"domain": [-0.89, 5], "nice": false, "zero": false}, "title": null},
                      "y": {"field": "lo", "type": "quantitative", "scale": {"domain": [-0.1, 33.8], "nice": false, "zero": false}, "title": null}, "y2": {"field": "hi"}}},
        {"mark": {"type": "point", "filled": true, "size": 170, "strokeWidth": 1.5, "opacity": 1},
         "encoding": {"x": {"field": "t", "type": "quantitative", "scale": {"domain": [-0.89, 5], "nice": false, "zero": false}, "title": null},
                      "y": {"field": "v", "type": "quantitative", "scale": {"domain": [-0.1, 33.8], "nice": false, "zero": false}, "title": null, "axis": {"values": [0, 6, 12, 18, 24, 30]}},
                      "shape": {"field": "s", "type": "nominal", "scale": {"domain": ["Mixed periphyton", "Hygrohypnum", "Cladophora", "Diatoms", "Audouinella"], "range": ["circle", "circle", "triangle-down", "triangle-down", "square"]},
                                "legend": {"title": null, "orient": "none", "legendX": 10, "legendY": 0, "rowPadding": 4.5, "encoding": {"symbols": {"stroke": {"value": "black"}, "strokeWidth": {"value": 1.5}}, "labels": {"fontStyle": {"condition": {"test": "indexof(['Hygrohypnum','Cladophora','Audouinella'], datum.value) >= 0", "value": "italic"}, "value": "normal"}}}}},
                      "fill": {"field": "s", "type": "nominal", "scale": {"domain": ["Mixed periphyton", "Hygrohypnum", "Cladophora", "Diatoms", "Audouinella"], "range": ["black", "white", "black", "white", "black"]},
                                "legend": {"title": null, "orient": "none", "legendX": 10, "legendY": 0, "rowPadding": 4.5, "encoding": {"symbols": {"stroke": {"value": "black"}, "strokeWidth": {"value": 1.5}}, "labels": {"fontStyle": {"condition": {"test": "indexof(['Hygrohypnum','Cladophora','Audouinella'], datum.value) >= 0", "value": "italic"}, "value": "normal"}}}}},
                      "stroke": {"field": "s", "type": "nominal", "scale": {"domain": ["Mixed periphyton", "Hygrohypnum", "Cladophora", "Diatoms", "Audouinella"], "range": ["black", "black", "black", "black", "black"]},
                                "legend": {"title": null, "orient": "none", "legendX": 10, "legendY": 0, "rowPadding": 4.5, "encoding": {"symbols": {"stroke": {"value": "black"}, "strokeWidth": {"value": 1.5}}, "labels": {"fontStyle": {"condition": {"test": "indexof(['Hygrohypnum','Cladophora','Audouinella'], datum.value) >= 0", "value": "italic"}, "value": "normal"}}}}}}}
      ]
    },
    {
      "width": 242, "height": 218, "data": {"name": "fa"},
      "transform": [{"filter": "datum.g === 'APP' && datum.f === 'ARA'"}],
      "layer": [
        {"transform": [{"filter": "isValid(datum.hi)"}], "mark": {"type": "errorbar", "ticks": true, "size": 9, "thickness": 1.8, "color": "black"},
         "encoding": {"x": {"field": "t", "type": "quantitative", "scale": {"domain": [-0.89, 5], "nice": false, "zero": false}, "title": null},
                      "y": {"field": "lo", "type": "quantitative", "scale": {"domain": [-0.1, 33.8], "nice": false, "zero": false}, "title": null}, "y2": {"field": "hi"}}},
        {"mark": {"type": "point", "filled": true, "size": 170, "stroke": "black", "strokeWidth": 1.5, "opacity": 1},
         "encoding": {"x": {"field": "t", "type": "quantitative", "scale": {"domain": [-0.89, 5], "nice": false, "zero": false}, "title": null},
                      "y": {"field": "v", "type": "quantitative", "scale": {"domain": [-0.1, 33.8], "nice": false, "zero": false}, "title": null, "axis": {"values": [0, 6, 12, 18, 24, 30], "labels": false}},
                      "shape": {"field": "s", "type": "nominal", "scale": {"domain": ["Mixed periphyton", "Hygrohypnum", "Cladophora", "Diatoms", "Audouinella"], "range": ["circle", "circle", "triangle-down", "triangle-down", "square"]}, "legend": null},
                      "fill": {"field": "s", "type": "nominal", "scale": {"domain": ["Mixed periphyton", "Hygrohypnum", "Cladophora", "Diatoms", "Audouinella"], "range": ["black", "white", "black", "white", "black"]}, "legend": null}}}
      ]
    },
    {
      "width": 242, "height": 218, "data": {"name": "fa"},
      "transform": [{"filter": "datum.g === 'APP' && datum.f === 'ALA'"}],
      "layer": [
        {"transform": [{"filter": "isValid(datum.hi)"}], "mark": {"type": "errorbar", "ticks": true, "size": 9, "thickness": 1.8, "color": "black"},
         "encoding": {"x": {"field": "t", "type": "quantitative", "scale": {"domain": [-0.89, 5], "nice": false, "zero": false}, "title": null},
                      "y": {"field": "lo", "type": "quantitative", "scale": {"domain": [-0.1, 33.8], "nice": false, "zero": false}, "title": null}, "y2": {"field": "hi"}}},
        {"mark": {"type": "point", "filled": true, "size": 170, "stroke": "black", "strokeWidth": 1.5, "opacity": 1},
         "encoding": {"x": {"field": "t", "type": "quantitative", "scale": {"domain": [-0.89, 5], "nice": false, "zero": false}, "title": null},
                      "y": {"field": "v", "type": "quantitative", "scale": {"domain": [-0.1, 33.8], "nice": false, "zero": false}, "title": null, "axis": {"values": [0, 6, 12, 18, 24, 30], "labels": false}},
                      "shape": {"field": "s", "type": "nominal", "scale": {"domain": ["Mixed periphyton", "Hygrohypnum", "Cladophora", "Diatoms", "Audouinella"], "range": ["circle", "circle", "triangle-down", "triangle-down", "square"]}, "legend": null},
                      "fill": {"field": "s", "type": "nominal", "scale": {"domain": ["Mixed periphyton", "Hygrohypnum", "Cladophora", "Diatoms", "Audouinella"], "range": ["black", "white", "black", "white", "black"]}, "legend": null}}}
      ]
    },
    {
      "width": 242, "height": 218, "data": {"name": "fa"},
      "transform": [{"filter": "datum.g === 'APP' && datum.f === 'EPA'"}],
      "layer": [
        {"data": {"values": [{}]}, "mark": {"type": "rule", "color": "#ff0000", "strokeWidth": 4, "strokeCap": "square"},
         "encoding": {"x": {"datum": -1.328, "type": "quantitative", "scale": {"domain": [-0.89, 5], "nice": false, "zero": false}, "title": null},
                      "y": {"datum": 36.9, "type": "quantitative", "scale": {"domain": [-0.1, 33.8], "nice": false, "zero": false}, "title": null}, "y2": {"datum": -3.3}}},
        {"data": {"values": [{}]}, "mark": {"type": "rule", "color": "#ff0000", "strokeWidth": 4, "strokeCap": "square"},
         "encoding": {"x": {"datum": 5.487, "type": "quantitative", "scale": {"domain": [-0.89, 5], "nice": false, "zero": false}, "title": null},
                      "y": {"datum": 36.9, "type": "quantitative", "scale": {"domain": [-0.1, 33.8], "nice": false, "zero": false}, "title": null}, "y2": {"datum": -3.3}}},
        {"transform": [{"filter": "isValid(datum.hi)"}], "mark": {"type": "errorbar", "ticks": true, "size": 9, "thickness": 1.8, "color": "black"},
         "encoding": {"x": {"field": "t", "type": "quantitative", "scale": {"domain": [-0.89, 5], "nice": false, "zero": false}, "title": null},
                      "y": {"field": "lo", "type": "quantitative", "scale": {"domain": [-0.1, 33.8], "nice": false, "zero": false}, "title": null}, "y2": {"field": "hi"}}},
        {"mark": {"type": "point", "filled": true, "size": 170, "stroke": "black", "strokeWidth": 1.5, "opacity": 1},
         "encoding": {"x": {"field": "t", "type": "quantitative", "scale": {"domain": [-0.89, 5], "nice": false, "zero": false}, "title": null},
                      "y": {"field": "v", "type": "quantitative", "scale": {"domain": [-0.1, 33.8], "nice": false, "zero": false}, "title": null, "axis": {"values": [0, 6, 12, 18, 24, 30], "labels": false}},
                      "shape": {"field": "s", "type": "nominal", "scale": {"domain": ["Mixed periphyton", "Hygrohypnum", "Cladophora", "Diatoms", "Audouinella"], "range": ["circle", "circle", "triangle-down", "triangle-down", "square"]}, "legend": null},
                      "fill": {"field": "s", "type": "nominal", "scale": {"domain": ["Mixed periphyton", "Hygrohypnum", "Cladophora", "Diatoms", "Audouinella"], "range": ["black", "white", "black", "white", "black"]}, "legend": null}}},
        {"transform": [{"filter": "datum.s === 'Audouinella'"}], "mark": {"type": "text", "text": "(\u2002)", "font": "Liberation Sans", "fontSize": 26, "baseline": "middle", "color": "black"},
         "encoding": {"x": {"field": "t", "type": "quantitative", "scale": {"domain": [-0.89, 5], "nice": false, "zero": false}, "title": null},
                      "y": {"field": "v", "type": "quantitative", "scale": {"domain": [-0.1, 33.8], "nice": false, "zero": false}, "title": null}}}
      ]
    },
    {
      "width": 2, "height": 218, "data": {"values": [{}]},
      "mark": {"type": "text", "align": "left", "baseline": "middle", "font": "DejaVu Sans", "fontSize": 30, "lineHeight": 40, "dy": -4, "color": "black"},
      "encoding": {"text": {"value": ["Aquatic Primary Producers", "(diatoms, algae, bryophytes)"]}}
    },

    {
      "width": 242, "height": 218, "data": {"name": "fa"},
      "transform": [{"filter": "datum.g === 'MIC' && datum.f === 'LA'"}],
      "resolve": {"axis": {"x": "independent"}},
      "layer": [
        {"transform": [{"filter": "isValid(datum.hi)"}], "mark": {"type": "errorbar", "ticks": true, "size": 9, "thickness": 1.8, "color": "black"},
         "encoding": {"x": {"field": "t", "type": "quantitative", "scale": {"domain": [-0.89, 5], "nice": false, "zero": false}, "axis": null},
                      "y": {"field": "lo", "type": "quantitative", "scale": {"domain": [0, 27.9], "nice": false, "zero": false}, "title": null}, "y2": {"field": "hi"}}},
        {"mark": {"type": "point", "filled": true, "size": 170, "strokeWidth": 1.5, "opacity": 1},
         "encoding": {"x": {"field": "t", "type": "quantitative", "scale": {"domain": [-0.89, 5], "nice": false, "zero": false}, "title": null,
                            "axis": {"orient": "bottom", "labels": true, "values": [-0.35, 0.88, 2.15, 3.28, 4.41], "labelExpr": "datum.value < 0.4 ? 'Sep' : datum.value < 1.6 ? 'Nov' : datum.value < 2.9 ? 'Mar' : datum.value < 4 ? 'May' : 'Jul'"}},
                      "y": {"field": "v", "type": "quantitative", "scale": {"domain": [0, 27.9], "nice": false, "zero": false}, "title": null, "axis": {"values": [0, 5, 10, 15, 20, 25]}},
                      "shape": {"field": "s", "type": "nominal", "scale": {"domain": ["Hydropsyche", "Isopod", "Ephemerella", "Oligochaete"], "range": ["circle", "circle", "triangle-down", "triangle-down"]},
                                "legend": {"title": null, "orient": "none", "legendX": 10, "legendY": -3, "rowPadding": 9, "encoding": {"symbols": {"stroke": {"value": "black"}, "strokeWidth": {"value": 1.5}}, "labels": {"fontStyle": {"condition": {"test": "indexof(['Hydropsyche','Ephemerella'], datum.value) >= 0", "value": "italic"}, "value": "normal"}}}}},
                      "fill": {"field": "s", "type": "nominal", "scale": {"domain": ["Hydropsyche", "Isopod", "Ephemerella", "Oligochaete"], "range": ["black", "white", "black", "white"]},
                                "legend": {"title": null, "orient": "none", "legendX": 10, "legendY": -3, "rowPadding": 9, "encoding": {"symbols": {"stroke": {"value": "black"}, "strokeWidth": {"value": 1.5}}, "labels": {"fontStyle": {"condition": {"test": "indexof(['Hydropsyche','Ephemerella'], datum.value) >= 0", "value": "italic"}, "value": "normal"}}}}},
                      "stroke": {"field": "s", "type": "nominal", "scale": {"domain": ["Hydropsyche", "Isopod", "Ephemerella", "Oligochaete"], "range": ["black", "black", "black", "black"]},
                                "legend": {"title": null, "orient": "none", "legendX": 10, "legendY": -3, "rowPadding": 9, "encoding": {"symbols": {"stroke": {"value": "black"}, "strokeWidth": {"value": 1.5}}, "labels": {"fontStyle": {"condition": {"test": "indexof(['Hydropsyche','Ephemerella'], datum.value) >= 0", "value": "italic"}, "value": "normal"}}}}}}},
        {"data": {"values": [{}]}, "mark": {"type": "point", "opacity": 0},
         "encoding": {"x": {"datum": 0.5, "type": "quantitative", "scale": {"domain": [-0.89, 5], "nice": false, "zero": false}, "title": null,
                            "axis": {"orient": "bottom", "labels": true, "domain": false, "values": [0.32, 2.73], "labelExpr": "datum.value < 1.8 ? '2002' : '2003'", "labelPadding": 42}}}}
      ]
    },
    {
      "width": 242, "height": 218, "data": {"name": "fa"},
      "transform": [{"filter": "datum.g === 'MIC' && datum.f === 'ARA'"}],
      "resolve": {"axis": {"x": "independent"}},
      "layer": [
        {"transform": [{"filter": "isValid(datum.hi)"}], "mark": {"type": "errorbar", "ticks": true, "size": 9, "thickness": 1.8, "color": "black"},
         "encoding": {"x": {"field": "t", "type": "quantitative", "scale": {"domain": [-0.89, 5], "nice": false, "zero": false}, "axis": null},
                      "y": {"field": "lo", "type": "quantitative", "scale": {"domain": [0, 27.9], "nice": false, "zero": false}, "title": null}, "y2": {"field": "hi"}}},
        {"mark": {"type": "point", "filled": true, "size": 170, "stroke": "black", "strokeWidth": 1.5, "opacity": 1},
         "encoding": {"x": {"field": "t", "type": "quantitative", "scale": {"domain": [-0.89, 5], "nice": false, "zero": false}, "title": null,
                            "axis": {"orient": "bottom", "labels": true, "values": [-0.25, 1.0, 2.32, 3.57, 4.68], "labelExpr": "datum.value < 0.4 ? 'Sep' : datum.value < 1.6 ? 'Nov' : datum.value < 2.9 ? 'Mar' : datum.value < 4 ? 'May' : 'Jul'"}},
                      "y": {"field": "v", "type": "quantitative", "scale": {"domain": [0, 27.9], "nice": false, "zero": false}, "title": null, "axis": {"values": [0, 5, 10, 15, 20, 25], "labels": false}},
                      "shape": {"field": "s", "type": "nominal", "scale": {"domain": ["Hydropsyche", "Isopod", "Ephemerella", "Oligochaete"], "range": ["circle", "circle", "triangle-down", "triangle-down"]}, "legend": null},
                      "fill": {"field": "s", "type": "nominal", "scale": {"domain": ["Hydropsyche", "Isopod", "Ephemerella", "Oligochaete"], "range": ["black", "white", "black", "white"]}, "legend": null}}},
        {"data": {"values": [{}]}, "mark": {"type": "point", "opacity": 0},
         "encoding": {"x": {"datum": 0.5, "type": "quantitative", "scale": {"domain": [-0.89, 5], "nice": false, "zero": false}, "title": null,
                            "axis": {"orient": "bottom", "labels": true, "domain": false, "values": [0.64, 2.94], "labelExpr": "datum.value < 1.8 ? '2002' : '2003'", "labelPadding": 42}}}}
      ]
    },
    {
      "width": 242, "height": 218, "data": {"name": "fa"},
      "transform": [{"filter": "datum.g === 'MIC' && datum.f === 'ALA'"}],
      "resolve": {"axis": {"x": "independent"}},
      "layer": [
        {"transform": [{"filter": "isValid(datum.hi)"}], "mark": {"type": "errorbar", "ticks": true, "size": 9, "thickness": 1.8, "color": "black"},
         "encoding": {"x": {"field": "t", "type": "quantitative", "scale": {"domain": [-0.89, 5], "nice": false, "zero": false}, "axis": null},
                      "y": {"field": "lo", "type": "quantitative", "scale": {"domain": [0, 27.9], "nice": false, "zero": false}, "title": null}, "y2": {"field": "hi"}}},
        {"mark": {"type": "point", "filled": true, "size": 170, "stroke": "black", "strokeWidth": 1.5, "opacity": 1},
         "encoding": {"x": {"field": "t", "type": "quantitative", "scale": {"domain": [-0.89, 5], "nice": false, "zero": false}, "title": null,
                            "axis": {"orient": "bottom", "labels": true, "values": [-0.27, 0.94, 2.26, 3.53, 4.61], "labelExpr": "datum.value < 0.4 ? 'Sep' : datum.value < 1.6 ? 'Nov' : datum.value < 2.9 ? 'Mar' : datum.value < 4 ? 'May' : 'Jul'"}},
                      "y": {"field": "v", "type": "quantitative", "scale": {"domain": [0, 27.9], "nice": false, "zero": false}, "title": null, "axis": {"values": [0, 5, 10, 15, 20, 25], "labels": false}},
                      "shape": {"field": "s", "type": "nominal", "scale": {"domain": ["Hydropsyche", "Isopod", "Ephemerella", "Oligochaete"], "range": ["circle", "circle", "triangle-down", "triangle-down"]}, "legend": null},
                      "fill": {"field": "s", "type": "nominal", "scale": {"domain": ["Hydropsyche", "Isopod", "Ephemerella", "Oligochaete"], "range": ["black", "white", "black", "white"]}, "legend": null}}},
        {"data": {"values": [{}]}, "mark": {"type": "point", "opacity": 0},
         "encoding": {"x": {"datum": 0.5, "type": "quantitative", "scale": {"domain": [-0.89, 5], "nice": false, "zero": false}, "title": null,
                            "axis": {"orient": "bottom", "labels": true, "domain": false, "values": [0.8, 3.15], "labelExpr": "datum.value < 1.8 ? '2002' : '2003'", "labelPadding": 42}}}}
      ]
    },
    {
      "width": 242, "height": 218, "data": {"name": "fa"},
      "transform": [{"filter": "datum.g === 'MIC' && datum.f === 'EPA'"}],
      "resolve": {"axis": {"x": "independent"}},
      "layer": [
        {"data": {"values": [{}]}, "mark": {"type": "rule", "color": "#ff0000", "strokeWidth": 4, "strokeCap": "square"},
         "encoding": {"x": {"datum": -1.328, "type": "quantitative", "scale": {"domain": [-0.89, 5], "nice": false, "zero": false}, "axis": null},
                      "y": {"datum": 30.5, "type": "quantitative", "scale": {"domain": [0, 27.9], "nice": false, "zero": false}, "title": null}, "y2": {"datum": -10.8}}},
        {"data": {"values": [{}]}, "mark": {"type": "rule", "color": "#ff0000", "strokeWidth": 4, "strokeCap": "square"},
         "encoding": {"x": {"datum": 5.487, "type": "quantitative", "scale": {"domain": [-0.89, 5], "nice": false, "zero": false}, "axis": null},
                      "y": {"datum": 30.5, "type": "quantitative", "scale": {"domain": [0, 27.9], "nice": false, "zero": false}, "title": null}, "y2": {"datum": -10.8}}},
        {"transform": [{"filter": "isValid(datum.hi)"}], "mark": {"type": "errorbar", "ticks": true, "size": 9, "thickness": 1.8, "color": "black"},
         "encoding": {"x": {"field": "t", "type": "quantitative", "scale": {"domain": [-0.89, 5], "nice": false, "zero": false}, "axis": null},
                      "y": {"field": "lo", "type": "quantitative", "scale": {"domain": [0, 27.9], "nice": false, "zero": false}, "title": null}, "y2": {"field": "hi"}}},
        {"mark": {"type": "point", "filled": true, "size": 170, "stroke": "black", "strokeWidth": 1.5, "opacity": 1},
         "encoding": {"x": {"field": "t", "type": "quantitative", "scale": {"domain": [-0.89, 5], "nice": false, "zero": false}, "title": null,
                            "axis": {"orient": "bottom", "labels": true, "values": [-0.3, 0.95, 2.3, 3.49, 4.57], "labelExpr": "datum.value < 0.4 ? 'Sep' : datum.value < 1.6 ? 'Nov' : datum.value < 2.9 ? 'Mar' : datum.value < 4 ? 'May' : 'Jul'"}},
                      "y": {"field": "v", "type": "quantitative", "scale": {"domain": [0, 27.9], "nice": false, "zero": false}, "title": null, "axis": {"values": [0, 5, 10, 15, 20, 25], "labels": false}},
                      "shape": {"field": "s", "type": "nominal", "scale": {"domain": ["Hydropsyche", "Isopod", "Ephemerella", "Oligochaete"], "range": ["circle", "circle", "triangle-down", "triangle-down"]}, "legend": null},
                      "fill": {"field": "s", "type": "nominal", "scale": {"domain": ["Hydropsyche", "Isopod", "Ephemerella", "Oligochaete"], "range": ["black", "white", "black", "white"]}, "legend": null}}},
        {"data": {"values": [{}]}, "mark": {"type": "point", "opacity": 0},
         "encoding": {"x": {"datum": 0.5, "type": "quantitative", "scale": {"domain": [-0.89, 5], "nice": false, "zero": false}, "title": null,
                            "axis": {"orient": "bottom", "labels": true, "domain": false, "values": [0.76, 3.3], "labelExpr": "datum.value < 1.8 ? '2002' : '2003'", "labelPadding": 42}}}}
      ]
    },
    {
      "width": 2, "height": 218, "data": {"values": [{}]},
      "mark": {"type": "text", "align": "left", "baseline": "middle", "font": "DejaVu Sans", "fontSize": 30, "lineHeight": 40, "dy": -9, "color": "black"},
      "encoding": {"text": {"value": "Macroinvertebrate Consumers"}}
    }
  ],
  "config": {
    "view": {"stroke": null},
    "axis": {"grid": false, "domainColor": "black", "tickColor": "black", "labelColor": "black", "labelFont": "Liberation Sans", "labelFlush": false, "labelOverlap": false},
    "axisX": {"domainWidth": 3, "ticks": false, "tickSize": 0, "labels": false, "labelFontSize": 22, "labelPadding": 10},
    "axisY": {"domainWidth": 2, "tickWidth": 2, "tickSize": 6, "labelFontSize": 22, "labelPadding": 13},
    "legend": {"orient": "none", "labelFont": "Liberation Sans", "labelFontSize": 21, "labelColor": "black", "symbolSize": 140, "symbolStrokeWidth": 1.5, "symbolStrokeColor": "black", "labelOffset": 10, "padding": 0},
    "title": {"font": "DejaVu Sans", "fontSize": 30, "fontWeight": "normal", "color": "black", "subtitleFont": "Liberation Sans", "subtitleFontSize": 41, "subtitleColor": "black", "anchor": "middle", "offset": 11, "subtitlePadding": 21}
  }
}
